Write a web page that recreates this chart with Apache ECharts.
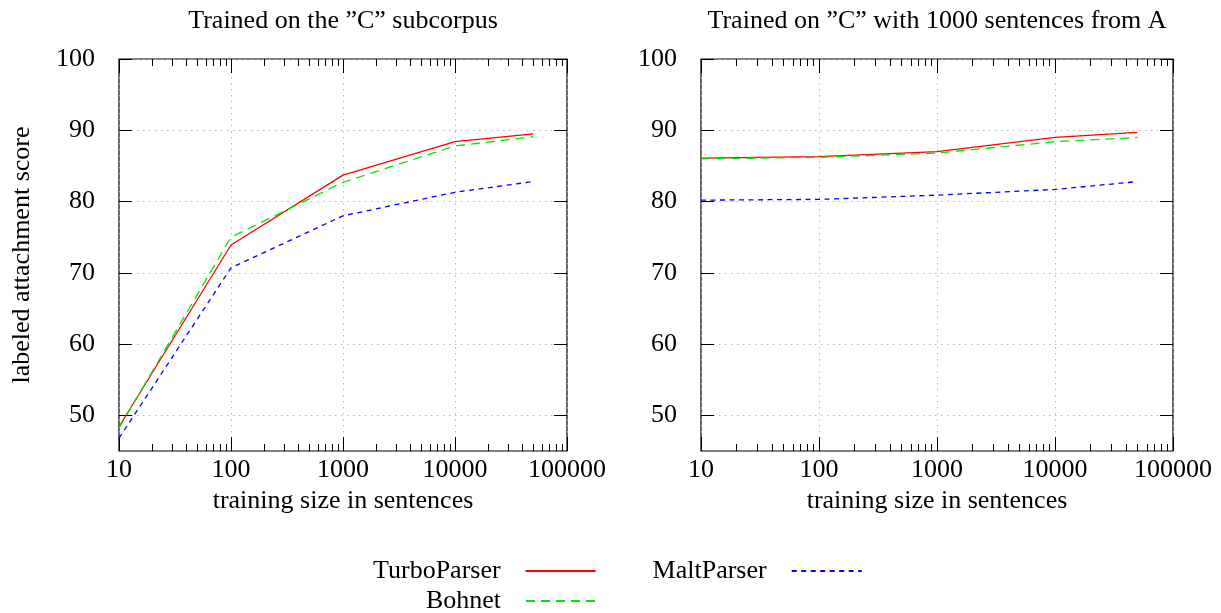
<!DOCTYPE html>
<html><head><meta charset="utf-8">
<script src="https://cdn.jsdelivr.net/npm/echarts@6/dist/echarts.min.js"></script>
<style>html,body{margin:0;padding:0;background:#fff}#c{width:1221px;height:613px}</style>
</head><body><div id="c"></div>
<script>
const sizes = [10, 100, 1000, 10000, 50000];
const leftTurbo = [48.4, 73.9, 83.7, 88.4, 89.5];
const leftBohnet = [48.2, 75.0, 82.7, 87.8, 89.1];
const leftMalt = [46.8, 70.7, 78.0, 81.3, 82.8];
const rightTurbo = [86.1, 86.3, 87.0, 89.0, 89.7];
const rightBohnet = [86.0, 86.2, 86.8, 88.4, 89.0];
const rightMalt = [80.2, 80.3, 80.9, 81.7, 82.8];
const xMajor = [10, 100, 1000, 10000, 100000];
const xMinor = [20,30,40,50,60,70,80,90,200,300,400,500,600,700,800,900,2000,3000,4000,5000,6000,7000,8000,9000,20000,30000,40000,50000,60000,70000,80000,90000];
const yMajor = [50, 60, 70, 80, 90, 100];
const titles = ['Trained on the \u201DC\u201D subcorpus', 'Trained on \u201DC\u201D with 1000 sentences from A'];
const xName = 'training size in sentences';
const yName = 'labeled attachment score';

const FONT = 'Liberation Serif';
const FS = 26;
const grids = [
  {left: 119, top: 59, width: 448, height: 392},
  {left: 701, top: 59, width: 472, height: 392}
];
const gridLine = {show: true, lineStyle: {color: '#b4b4b4', type: [1.5, 4.5], width: 1}};
const xAxes = [], yAxes = [];
grids.forEach((g, i) => {
  const base = {type: 'log', logBase: 10, min: 10, max: 100000, gridIndex: i, axisLine: {show: false}};
  xAxes.push(Object.assign({}, base, {
    position: 'bottom',
    name: xName, nameLocation: 'middle', nameGap: 33,
    nameTextStyle: {fontFamily: FONT, fontSize: FS, color: '#000'},
    axisTick: {show: true, inside: true, length: 14, customValues: xMajor, lineStyle: {color: '#000', width: 1}},
    axisLabel: {show: true, customValues: xMajor, margin: 6, fontFamily: FONT, fontSize: FS, color: '#000', showMinLabel: true, showMaxLabel: true, hideOverlap: false,
      formatter: v => String(Math.round(v))},
    splitLine: gridLine, minorTick: {show: false}
  }));
  xAxes.push(Object.assign({}, base, {
    position: 'bottom',
    axisTick: {show: true, inside: true, length: 7, customValues: xMinor, lineStyle: {color: '#000', width: 1}},
    axisLabel: {show: false}, splitLine: {show: false}
  }));
  xAxes.push(Object.assign({}, base, {
    position: 'top',
    axisTick: {show: true, inside: true, length: 14, customValues: xMajor, lineStyle: {color: '#000', width: 1}},
    axisLabel: {show: false}, splitLine: {show: false}
  }));
  xAxes.push(Object.assign({}, base, {
    position: 'top',
    axisTick: {show: true, inside: true, length: 7, customValues: xMinor, lineStyle: {color: '#000', width: 1}},
    axisLabel: {show: false}, splitLine: {show: false}
  }));
  const ybase = {type: 'value', min: 45, max: 100, gridIndex: i, axisLine: {show: false}};
  yAxes.push(Object.assign({}, ybase, {
    position: 'left',
    name: i === 0 ? yName : '', nameLocation: 'middle', nameGap: 84, nameRotate: 90,
    nameTextStyle: {fontFamily: FONT, fontSize: FS, color: '#000'},
    axisTick: {show: true, inside: true, length: 13, customValues: yMajor, lineStyle: {color: '#000', width: 1}},
    axisLabel: {show: true, customValues: yMajor, margin: 24, fontFamily: FONT, fontSize: FS, color: '#000'},
    splitLine: gridLine
  }));
  yAxes.push(Object.assign({}, ybase, {
    position: 'right',
    axisTick: {show: true, inside: true, length: 13, customValues: yMajor, lineStyle: {color: '#000', width: 1}},
    axisLabel: {show: false}, splitLine: {show: false}
  }));
});

function mk(name, xs, ys, color, type, xi, yi) {
  return {
    name: name, type: 'line', xAxisIndex: xi, yAxisIndex: yi,
    data: xs.map((x, k) => [x, ys[k]]),
    showSymbol: false, symbol: 'none', animation: false,
    lineStyle: {color: color, width: 1.3, type: type},
    itemStyle: {color: color}
  };
}
const RED = '#ff0000', GREEN = '#00e600', BLUE = '#0000ff';
const DASH_G = [9, 6], DASH_B = [5, 4.5];
const series = [
  mk('TurboParser', sizes, leftTurbo, RED, 'solid', 0, 0),
  mk('Bohnet', sizes, leftBohnet, GREEN, DASH_G, 0, 0),
  mk('MaltParser', sizes, leftMalt, BLUE, DASH_B, 0, 0),
  mk('TurboParser', sizes, rightTurbo, RED, 'solid', 4, 2),
  mk('Bohnet', sizes, rightBohnet, GREEN, DASH_G, 4, 2),
  mk('MaltParser', sizes, rightMalt, BLUE, DASH_B, 4, 2)
];

const legendText = {fontFamily: FONT, fontSize: FS, color: '#000', padding: [0, 20, 0, 0]};
const legendItem = {opacity: 0};
const option = {
  animation: false,
  backgroundColor: '#fff',
  title: [
    {text: titles[0], left: 343, top: 8, textAlign: 'center', padding: 0, textStyle: {fontFamily: FONT, fontSize: FS, fontWeight: 'normal', color: '#000'}},
    {text: titles[1], left: 937, top: 8, textAlign: 'center', padding: 0, textStyle: {fontFamily: FONT, fontSize: FS, fontWeight: 'normal', color: '#000'}}
  ],
  grid: grids.map(g => Object.assign({show: true, borderColor: '#000', borderWidth: 1.2, backgroundColor: 'transparent'}, g)),
  xAxis: xAxes,
  yAxis: yAxes,
  legend: [
    {data: ['TurboParser', 'MaltParser'], left: 373, top: 558, align: 'right', padding: 0, itemGap: 56, itemWidth: 70, itemHeight: 14, textStyle: legendText, itemStyle: legendItem, selectedMode: false},
    {data: ['Bohnet'], right: 624, top: 588, align: 'right', padding: 0, itemWidth: 70, itemHeight: 14, textStyle: legendText, itemStyle: legendItem, selectedMode: false}
  ],
  series: series
};
const chart = echarts.init(document.getElementById('c'), null, {renderer: 'canvas'});
chart.setOption(option);
</script>
</body></html>
